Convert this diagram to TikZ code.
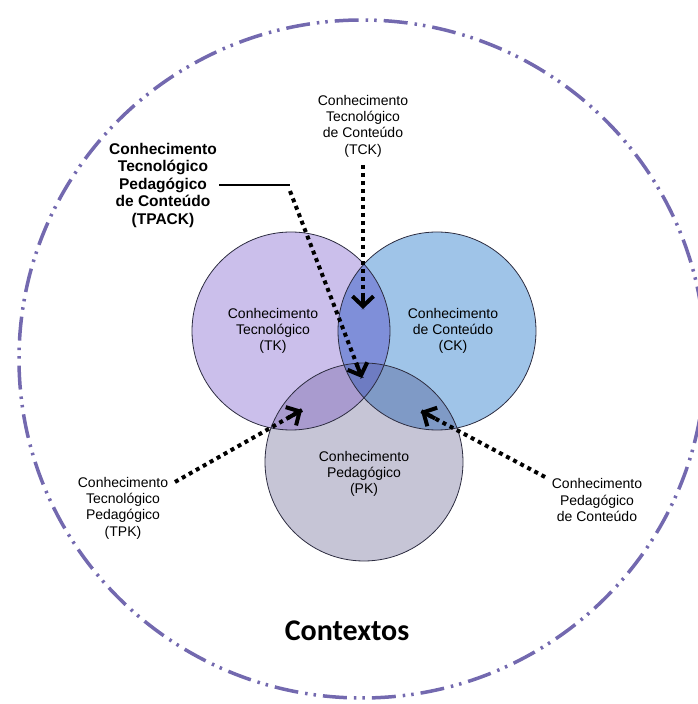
\documentclass[tikz,border=0pt]{standalone}
\usepackage{fontspec}
\setmainfont{Liberation Sans}
\newfontfamily\ctxfont{Carlito}
\usetikzlibrary{arrows.meta,calc}

\definecolor{tkcol}{RGB}{203,191,235}
\definecolor{ckcol}{RGB}{159,196,232}
\definecolor{pkcol}{RGB}{198,197,214}
\definecolor{tckcol}{RGB}{127,143,217}
\definecolor{tpkcol}{RGB}{169,155,207}
\definecolor{pckcol}{RGB}{127,154,198}
\definecolor{tpackcol}{RGB}{110,124,194}
\definecolor{ringcol}{RGB}{45,45,65}
\definecolor{ctxcol}{RGB}{115,105,175}

\tikzset{
  kcirc/.style={draw=ringcol, line width=0.8pt},
  klabel/.style={align=center, font=\fontsize{14}{16.3}\selectfont},
  dotline/.style={line width=4pt, dash pattern=on 4pt off 4pt},
  tipstub/.style={line width=4pt, -{Straight Barb[length=10pt,width=21pt]}},
  ctxring/.style={ctxcol, line width=3.5pt,
    dash pattern=on 24pt off 7pt on 2.5pt off 6pt on 2.5pt off 7pt}
}

\begin{document}
\begin{tikzpicture}[x=1pt,y=1pt]
\useasboundingbox (0,0) rectangle (697,704);

\coordinate (TK) at (291,373);
\coordinate (CK) at (437,373);
\coordinate (PK) at (364,242);

\draw[ctxring] (362,345) ellipse [x radius=343, y radius=339];

\fill[tkcol] (TK) circle[radius=99];
\fill[ckcol] (CK) circle[radius=99];
\fill[pkcol] (PK) circle[radius=99];
\begin{scope}
  \clip (TK) circle[radius=99];
  \fill[tckcol] (CK) circle[radius=99];
  \fill[tpkcol] (PK) circle[radius=99];
  \clip (CK) circle[radius=99];
  \fill[tpackcol] (PK) circle[radius=99];
\end{scope}
\begin{scope}
  \clip (CK) circle[radius=99];
  \fill[pckcol] (PK) circle[radius=99];
  \clip (TK) circle[radius=99];
  \fill[tpackcol] (PK) circle[radius=99];
\end{scope}
\draw[kcirc] (TK) circle[radius=99];
\draw[kcirc] (CK) circle[radius=99];
\draw[kcirc] (PK) circle[radius=99];

\node[klabel] (tklab) at (273,373) {Conhecimento\\Tecnológico\\(TK)};
\node[klabel] (cklab) at (453,373) {Conhecimento\\de Conteúdo\\(CK)};
\node[klabel] (pklab) at (364,230) {Conhecimento\\Pedagógico\\(PK)};

\node[klabel] (tcklab) at (363,578) {Conhecimento\\Tecnológico\\de Conteúdo\\(TCK)};
\node[klabel] (tpklab) at (123,196) {Conhecimento\\Tecnológico\\Pedagógico\\(TPK)};
\node[klabel] (pcklab) at (597,204) {Conhecimento\\Pedagógico\\de Conteúdo};
\node[klabel, font=\fontsize{15.5}{17.5}\selectfont\bfseries, inner sep=2pt] (tpacklab) at (163,519)
  {Conhecimento\\Tecnológico\\Pedagógico\\de Conteúdo\\(TPACK)};

\coordinate (tckfrom) at (363,539);
\coordinate (tcktip) at (363,395);
\coordinate (tpackbend) at (290,519);
\coordinate (tpackfrom) at (290,513);
\coordinate (tpacktip) at (362,326);
\coordinate (tpkfrom) at (175,222);
\coordinate (tpktip) at (302,294);
\coordinate (pckfrom) at (545,227);
\coordinate (pcktip) at (421,293);

\draw[line width=2.8pt] (tpacklab.east) -- (tpackbend);
\draw[dotline] (tpackfrom) -- (tpacktip);
\draw[tipstub] ($(tpacktip)!16pt!(tpackfrom)$) -- (tpacktip);
\draw[dotline] (tckfrom) -- (tcktip);
\draw[tipstub] ($(tcktip)!16pt!(tckfrom)$) -- (tcktip);
\draw[dotline] (tpkfrom) -- (tpktip);
\draw[tipstub] ($(tpktip)!16pt!(tpkfrom)$) -- (tpktip);
\draw[dotline] (pckfrom) -- (pcktip);
\draw[tipstub] ($(pcktip)!16pt!(pckfrom)$) -- (pcktip);

\node[font=\ctxfont\fontsize{30}{35}\selectfont\bfseries] (ctx) at (347,73) {Contextos};
\end{tikzpicture}
\end{document}
